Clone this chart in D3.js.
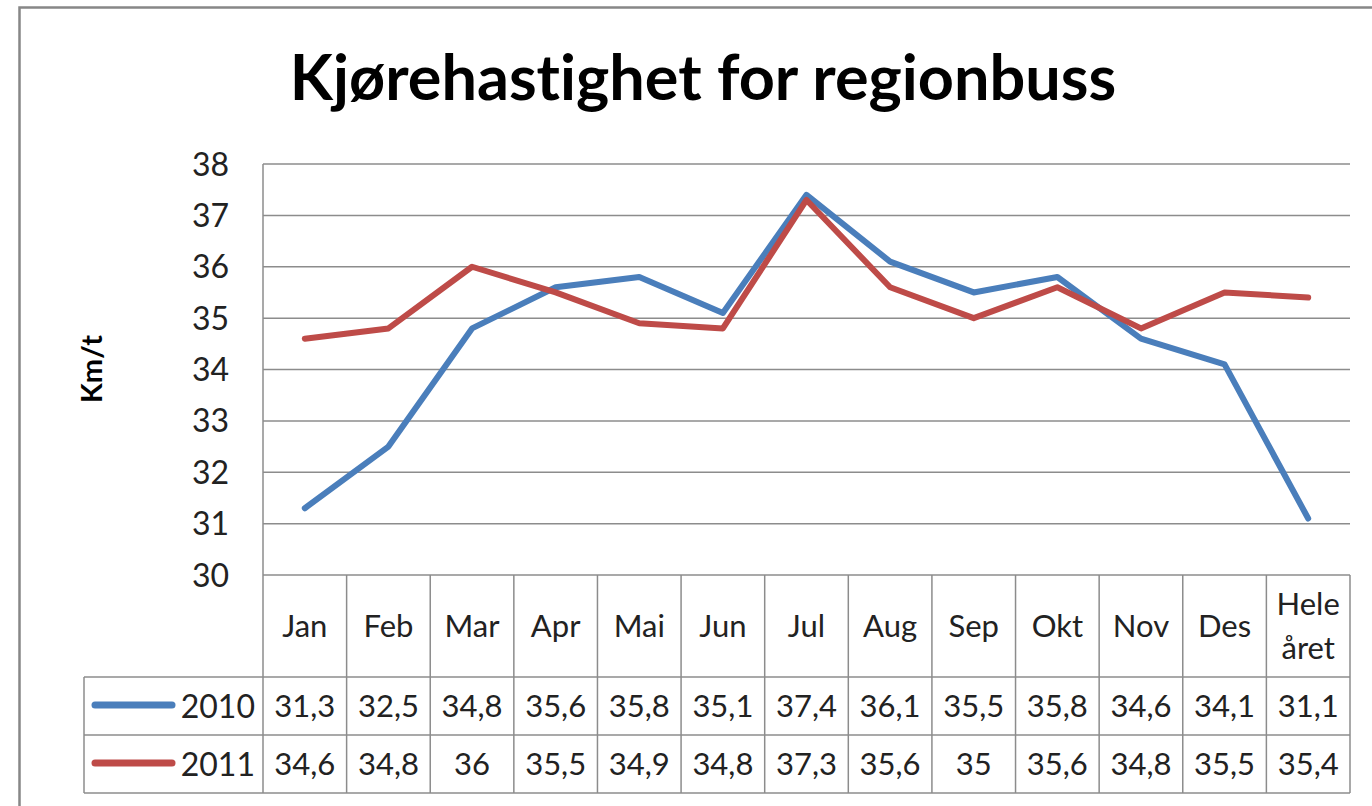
<!DOCTYPE html>
<html>
<head>
<meta charset="utf-8">
<script src="https://cdn.jsdelivr.net/npm/d3@7"></script>
<style>
  body { margin: 0; background: #fff; }
  svg { display: block; font-family: Lato, "Open Sans", sans-serif; font-variant-ligatures: none; }
</style>
</head>
<body>
<div id="chart"></div>
<script>
// data
const months = ["Jan", "Feb", "Mar", "Apr", "Mai", "Jun", "Jul", "Aug", "Sep", "Okt", "Nov", "Des", "Hele året"];
const years = ["2010", "2011"];
const speed2010 = [31.3, 32.5, 34.8, 35.6, 35.8, 35.1, 37.4, 36.1, 35.5, 35.8, 34.6, 34.1, 31.1];
const speed2011 = [34.6, 34.8, 36, 35.5, 34.9, 34.8, 37.3, 35.6, 35, 35.6, 34.8, 35.5, 35.4];
const yTicks = [30, 31, 32, 33, 34, 35, 36, 37, 38];
const colors = ["#4a7ebb", "#be4b48"];

const series = [speed2010, speed2011];

const width = 1372, height = 806;
const plot = { left: 263, right: 1350, top: 164, bottom: 575 };
const rowTops = [575, 677, 735, 793];
const legendLeft = 84;
const gridColor = "#8c8c8c";

const svg = d3.select("#chart").append("svg")
  .attr("width", width)
  .attr("height", height);

svg.append("rect")
  .attr("width", width).attr("height", height)
  .attr("fill", "#fff");

// outer chart border
svg.append("rect")
  .attr("x", 19.5).attr("y", 7.5)
  .attr("width", 1500).attr("height", 1000)
  .attr("fill", "none")
  .attr("stroke", "#878787")
  .attr("stroke-width", 2.5);

let x = d3.scaleBand()
  .domain(months)
  .range([plot.left, plot.right]);

let y = d3.scaleLinear()
  .domain([30, 38])
  .range([plot.bottom, plot.top]);

// title
svg.append("text")
  .attr("x", 703)
  .attr("y", 100)
  .attr("text-anchor", "middle")
  .style("font-size", "63px")
  .style("font-weight", "bold")
  .attr("fill", "#000")
  .text("Kjørehastighet for regionbuss");

// y label
svg.append("text")
  .attr("transform", "translate(102,369) rotate(-90)")
  .attr("text-anchor", "middle")
  .style("font-size", "29px")
  .style("font-weight", "bold")
  .text("Km/t");

// gridlines
svg.append("g").selectAll("line")
  .data(yTicks)
  .join("line")
  .attr("x1", plot.left).attr("x2", plot.right)
  .attr("y1", d => y(d)).attr("y2", d => y(d))
  .attr("stroke", gridColor)
  .attr("stroke-width", 1.5);

// left axis line
svg.append("line")
  .attr("x1", plot.left).attr("x2", plot.left)
  .attr("y1", plot.top).attr("y2", plot.bottom)
  .attr("stroke", gridColor)
  .attr("stroke-width", 1.5);

// tick labels
svg.append("g").selectAll("text")
  .data(yTicks)
  .join("text")
  .attr("x", 229)
  .attr("y", d => y(d))
  .attr("dy", "0.36em")
  .attr("text-anchor", "end")
  .style("font-size", "32px")
  .attr("fill", "#222")
  .text(d => d);

////////////
// table  //
////////////

let table = svg.append("g");

// vertical cell borders
let bounds = months.map(m => x(m)).concat([plot.right]);
table.selectAll(".vline")
  .data(bounds)
  .join("line")
  .attr("class", "vline")
  .attr("x1", d => d).attr("x2", d => d)
  .attr("y1", rowTops[0]).attr("y2", rowTops[3])
  .attr("stroke", gridColor)
  .attr("stroke-width", 1.5);

// horizontal row borders
table.selectAll(".hline")
  .data(rowTops.slice(1))
  .join("line")
  .attr("class", "hline")
  .attr("x1", legendLeft).attr("x2", plot.right)
  .attr("y1", d => d).attr("y2", d => d)
  .attr("stroke", gridColor)
  .attr("stroke-width", 1.5);

table.append("line")
  .attr("x1", legendLeft).attr("x2", legendLeft)
  .attr("y1", rowTops[1]).attr("y2", rowTops[3])
  .attr("stroke", gridColor)
  .attr("stroke-width", 1.5);

// header labels
let headerMid = (rowTops[0] + rowTops[1]) / 2;
months.forEach(function(m) {
  let parts = m.split(" ");
  let t = table.append("text")
    .attr("x", x(m) + x.bandwidth() / 2)
    .attr("text-anchor", "middle")
    .style("font-size", "31px")
    .attr("fill", "#222");
  if (parts.length === 1) {
    t.attr("y", headerMid).attr("dy", "0.36em").text(m);
  } else {
    parts.forEach(function(p, i) {
      t.append("tspan")
        .attr("x", x(m) + x.bandwidth() / 2)
        .attr("y", headerMid + (i === 0 ? -22 : 22))
        .attr("dy", "0.36em")
        .text(p);
    });
  }
});

// value rows + legend keys
series.forEach(function(vals, i) {
  let mid = (rowTops[i + 1] + rowTops[i + 2]) / 2;
  table.append("line")
    .attr("x1", 95).attr("x2", 172)
    .attr("y1", mid - 1).attr("y2", mid - 1)
    .attr("stroke", colors[i])
    .attr("stroke-width", 7)
    .attr("stroke-linecap", "round");
  table.append("text")
    .attr("x", 255)
    .attr("y", mid)
    .attr("dy", "0.36em")
    .attr("text-anchor", "end")
    .style("font-size", "32px")
    .attr("fill", "#222")
    .text(years[i]);
  table.selectAll(".val" + i)
    .data(vals)
    .join("text")
    .attr("class", "val" + i)
    .attr("x", (d, j) => x(months[j]) + x.bandwidth() / 2)
    .attr("y", mid)
    .attr("dy", "0.36em")
    .attr("text-anchor", "middle")
    .style("font-size", "31px")
    .attr("fill", "#222")
    .text(d => String(d).replace(".", ","));
});

////////////
// lines  //
////////////

let line = d3.line()
  .x((d, j) => x(months[j]) + x.bandwidth() / 2)
  .y(d => y(d));

svg.append("g").selectAll("path")
  .data(series)
  .join("path")
  .attr("d", d => line(d))
  .attr("fill", "none")
  .attr("stroke", (d, i) => colors[i])
  .attr("stroke-width", 6)
  .attr("stroke-linejoin", "round")
  .attr("stroke-linecap", "round");
</script>
</body>
</html>
